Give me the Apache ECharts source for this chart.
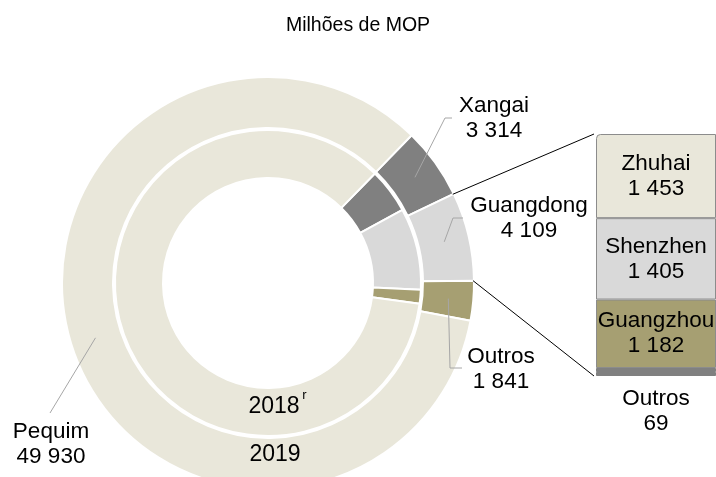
<!DOCTYPE html>
<html>
<head>
<meta charset="utf-8">
<script src="https://cdn.jsdelivr.net/npm/echarts@6/dist/echarts.min.js"></script>
<style>
  html, body { margin: 0; padding: 0; background: #fff; }
  #main { width: 716px; height: 477px; }
</style>
</head>
<body>
<div id="main"></div>
<script>
// regions (ring order, clockwise from Xangai)
var regions = ['Xangai', 'Guangdong', 'Outros', 'Pequim'];
var values2019 = [3314, 4109, 1841, 49930];
var values2018 = [2580, 4650, 800, 45970];   // read from the angles, no labels in the picture
// Guangdong breakdown, bottom to top
var gdCities = ['Outros', 'Guangzhou', 'Shenzhen', 'Zhuhai'];
var gdValues = [69, 1182, 1405, 1453];

var regionColors = ['#808080', '#d9d9d9', '#a69f72', '#e9e7da'];
var cityColors = ['#808080', '#a69f72', '#d9d9d9', '#e9e7da'];

var CX = 268, CY = 283;
var START_OUT = 45.8, START_IN = 45.7;
var R_OUT = 205, R_MID = 181;

// where each outer label sits, and the leader line after its start point
var labelSpots = {
  Xangai:    { x: 494, y: 118, line: [[445, 118], [452, 118]] },
  Guangdong: { x: 529, y: 218, line: [[453, 218], [463, 218]] },
  Outros:    { x: 501, y: 369, line: [[450, 368], [462, 368]] },
  Pequim:    { x: 51,  y: 444, line: [[50, 413]] }
};

function fmt(v) {
  return String(v).replace(/\B(?=(\d{3})+(?!\d))/g, ' ');
}
function sum(a) {
  return a.reduce(function (s, v) { return s + v; }, 0);
}
// angle (deg, echarts convention) after `upto` items plus `part` of the next
function ringAngle(vals, start, upto, part) {
  var before = 0;
  for (var i = 0; i < upto; i++) before += vals[i];
  if (part) before += vals[upto] * part;
  return start - before / sum(vals) * 360;
}
function polar(angle, r) {
  var a = angle * Math.PI / 180;
  return [CX + r * Math.cos(a), CY - r * Math.sin(a)];
}

var font = "'Liberation Sans', Arial, sans-serif";
var myChart = echarts.init(document.getElementById('main'));

var barSeries = gdCities.map(function (c, i) {
  return {
    name: c,
    type: 'bar',
    stack: 'gd',
    barWidth: '100%',
    silent: true,
    data: [gdValues[i]],
    itemStyle: {
      color: cityColors[i],
      borderColor: i === 0 ? '#808080' : '#8c8c8c',
      borderWidth: 1,
      borderRadius: i === gdCities.length - 1 ? [4, 0, 0, 0] : 0,
      shadowColor: i === 0 ? '#808080' : 'transparent',
      shadowOffsetY: i === 0 ? 4 : 0,
      shadowBlur: 0
    },
    label: {
      show: true,
      position: i === 0 ? 'bottom' : 'inside',
      distance: 14,
      color: '#000',
      fontSize: 22.5,
      lineHeight: 25,
      fontFamily: font,
      formatter: function (p) { return p.seriesName + '\n' + fmt(p.value); }
    }
  };
});

myChart.setOption({
  animation: false,
  textStyle: { fontFamily: font },
  title: {
    text: 'Milhões de MOP',
    left: 'center',
    top: 16,
    padding: 0,
    textStyle: { fontSize: 19.5, fontWeight: 'normal', color: '#000', fontFamily: font }
  },
  grid: { left: 596, top: 134, width: 124, height: 238 },
  xAxis: { type: 'category', data: ['Guangdong'], show: false },
  yAxis: { type: 'value', min: 0, max: sum(gdValues), show: false },
  series: [
    {
      name: '2019',
      type: 'pie',
      center: [CX, CY],
      radius: [155, 206],
      startAngle: START_OUT,
      clockwise: true,
      silent: true,
      itemStyle: { borderColor: '#fff', borderWidth: 2 },
      data: regions.map(function (r, i) {
        return { name: r, value: values2019[i], itemStyle: { color: regionColors[i] } };
      }),
      label: {
        show: true,
        position: 'outside',
        overflow: 'none',
        color: '#000',
        fontSize: 22.5,
        lineHeight: 25,
        fontFamily: font,
        formatter: function (p) { return p.name + '\n' + fmt(p.value); }
      },
      labelLine: { show: false },
      labelLayout: function (p) {
        var spot = labelSpots[regions[p.dataIndex]];
        return { x: spot.x, y: spot.y, width: 140, align: 'center', verticalAlign: 'middle' };
      }
    },
    {
      name: '2018',
      type: 'pie',
      center: [CX, CY],
      radius: [105, 153],
      startAngle: START_IN,
      clockwise: true,
      silent: true,
      itemStyle: { borderColor: '#fff', borderWidth: 2 },
      data: regions.map(function (r, i) {
        return { name: r, value: values2018[i], itemStyle: { color: regionColors[i] } };
      }),
      label: { show: false },
      labelLine: { show: false }
    }
  ].concat(barSeries)
});

// leader lines start mid-ring on each 2019 slice
var leaders = regions.map(function (r, i) {
  var mid = ringAngle(values2019, START_OUT, i, 0.5);
  return {
    type: 'polyline', silent: true, z: 100,
    shape: { points: [polar(mid, R_MID)].concat(labelSpots[r].line) },
    style: { stroke: '#a6a6a6', lineWidth: 1, fill: null }
  };
});

// connectors from the Guangdong slice to the breakdown bar
var pTop = polar(ringAngle(values2019, START_OUT, 1), R_OUT);
var pBot = polar(ringAngle(values2019, START_OUT, 2), R_OUT);
var barLeft = myChart.convertToPixel({ gridIndex: 0 }, [0, 0])[0] - 62;
var barTop = myChart.convertToPixel({ yAxisIndex: 0 }, sum(gdValues));
var barBottom = myChart.convertToPixel({ yAxisIndex: 0 }, 0) + 4;

function yearText(x, y, text, size) {
  return {
    type: 'text', silent: true, z: 100,
    style: { x: x, y: y, text: text, fontSize: size, fontFamily: font, fill: '#000',
      align: 'center', verticalAlign: 'middle' }
  };
}

myChart.setOption({
  graphic: leaders.concat([
    { type: 'line', silent: true, z: 100, shape: { x1: pTop[0], y1: pTop[1], x2: barLeft, y2: barTop },
      style: { stroke: '#000', lineWidth: 1 } },
    { type: 'line', silent: true, z: 100, shape: { x1: pBot[0], y1: pBot[1], x2: barLeft, y2: barBottom },
      style: { stroke: '#000', lineWidth: 1 } },
    yearText(274, 407, '2018', 23),
    yearText(304.5, 395, 'r', 13),
    yearText(275, 455, '2019', 23)
  ])
});
</script>
</body>
</html>
